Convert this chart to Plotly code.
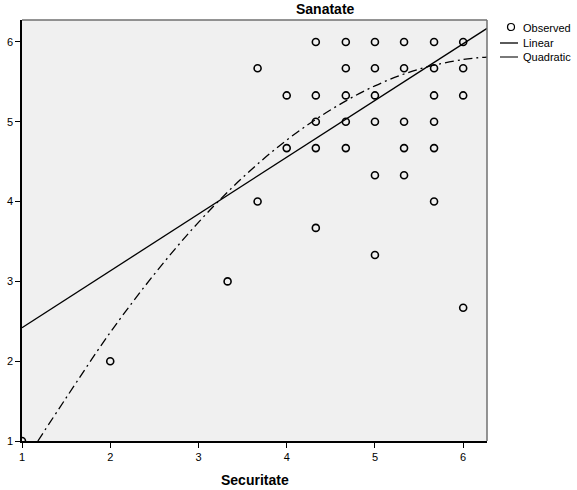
import plotly.graph_objects as go

# Observed data (Securitate, Sanatate)
obs_x = [1, 2, 3.33,
         3.67, 3.67,
         4, 4,
         4.33, 4.33, 4.33, 4.33, 4.33,
         4.67, 4.67, 4.67, 4.67, 4.67,
         5, 5, 5, 5, 5, 5,
         5.33, 5.33, 5.33, 5.33, 5.33,
         5.67, 5.67, 5.67, 5.67, 5.67, 5.67,
         6, 6, 6, 6]
obs_y = [1, 2, 3,
         5.67, 4,
         5.33, 4.67,
         6, 5.33, 5, 4.67, 3.67,
         6, 5.67, 5.33, 5, 4.67,
         6, 5.67, 5.33, 5, 4.33, 3.33,
         6, 5.67, 5, 4.67, 4.33,
         6, 5.67, 5.33, 5, 4.67, 4,
         6, 5.67, 5.33, 2.67]

# Linear fit line
lin_x = [1.0, 6.27]
lin_y = [2.42, 6.17]

# Quadratic fit curve
quad_x = [1.18, 1.5, 2.0, 2.5, 3.0, 3.5, 4.0, 4.5, 5.0, 5.5, 6.0, 6.27]
quad_y = [1.0, 1.54, 2.36, 3.09, 3.74, 4.30, 4.77, 5.15, 5.45, 5.66, 5.78, 5.81]

x_ticks = [1, 2, 3, 4, 5, 6]
y_ticks = [1, 2, 3, 4, 5, 6]

legend_labels = ["Observed", "Linear", "Quadratic"]

W, H = 577, 490
L, R, T, B = 22, 90, 20, 49
PW, PH = W - L - R, H - T - B


def px(x):
    return (x - L) / PW


def py(y):
    return (H - B - y) / PH


fig = go.Figure()
fig.add_trace(go.Scatter(
    x=obs_x, y=obs_y, mode="markers", name=legend_labels[0],
    marker=dict(symbol="circle-open", size=7, color="black", line=dict(width=1.6, color="black")),
))
fig.add_trace(go.Scatter(
    x=lin_x, y=lin_y, mode="lines", name=legend_labels[1],
    line=dict(color="black", width=1.3),
))
fig.add_trace(go.Scatter(
    x=quad_x, y=quad_y, mode="lines", name=legend_labels[2],
    line=dict(color="black", width=1.3, dash="9px,4px,2px,4px", shape="spline"),
))

shapes = [
    dict(type="line", xref="paper", yref="paper", x0=0, x1=1, y0=1, y1=1,
         line=dict(color="#707070", width=1.5)),
    dict(type="line", xref="paper", yref="paper", x0=1, x1=1, y0=0, y1=1,
         line=dict(color="#707070", width=1.5)),
    # legend symbols
    dict(type="circle", xref="paper", yref="paper",
         x0=px(507.5), x1=px(514.5), y0=py(30.5), y1=py(23.5),
         line=dict(color="black", width=1.2), fillcolor="rgba(0,0,0,0)"),
    dict(type="line", xref="paper", yref="paper", x0=px(500), x1=px(518), y0=py(43), y1=py(43),
         line=dict(color="black", width=1.3)),
    dict(type="line", xref="paper", yref="paper", x0=px(500), x1=px(518), y0=py(57), y1=py(57),
         line=dict(color="#303030", width=1.3)),
]

annotations = [
    dict(text="<b>Sanatate</b>", xref="paper", yref="paper",
         x=px(325), y=1, xanchor="center", yanchor="bottom",
         yshift=1, showarrow=False, font=dict(size=14, color="black")),
    dict(text="<b>Securitate</b>", xref="paper", yref="paper",
         x=px(255), y=0, xanchor="center", yanchor="middle",
         yshift=-39, showarrow=False, font=dict(size=14, color="black")),
]
for lbl, ypix in zip(legend_labels, [28, 43, 57]):
    annotations.append(dict(text=lbl, xref="paper", yref="paper", x=px(521), y=py(ypix),
                            xanchor="left", yanchor="middle", showarrow=False,
                            font=dict(size=11, color="black")))

fig.update_layout(
    width=W, height=H,
    margin=dict(l=L, r=R, t=T, b=B, autoexpand=False),
    paper_bgcolor="white",
    plot_bgcolor="#F0F0F0",
    font=dict(family="Arial, Liberation Sans, sans-serif", size=11, color="black"),
    showlegend=False,
    xaxis=dict(
        range=[1, 6.27], tickvals=x_ticks, ticktext=[str(v) for v in x_ticks],
        showgrid=False, zeroline=False, showline=True, linecolor="black", linewidth=1.5,
        ticks="outside", ticklen=5, tickcolor="black", tickwidth=1,
        tickfont=dict(size=11), automargin=False,
    ),
    yaxis=dict(
        range=[1, 6.275], tickvals=y_ticks, ticktext=[str(v) for v in y_ticks],
        showgrid=False, zeroline=False, showline=True, linecolor="black", linewidth=1.5,
        ticks="outside", ticklen=5, tickcolor="black", tickwidth=1,
        tickfont=dict(size=11), automargin=False,
    ),
    shapes=shapes,
    annotations=annotations,
)

fig.write_html("out.html")
